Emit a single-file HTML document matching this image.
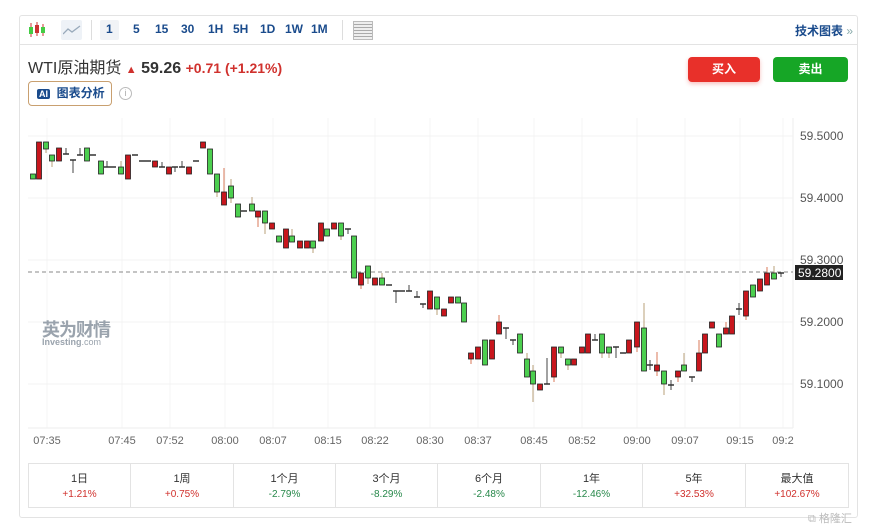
<!DOCTYPE html>
<html><head><meta charset="utf-8"><style>
*{margin:0;padding:0;box-sizing:border-box}
body{width:870px;height:531px;background:#fff;font-family:"Liberation Sans","Noto Sans CJK SC",sans-serif;position:relative;overflow:hidden}
.a{position:absolute}
.card{left:19px;top:15px;width:839px;height:503px;border:1px solid #e3e3e3;border-radius:3px}
.tb{left:19px;top:15px;width:839px;height:30px;border-bottom:1px solid #e3e3e3}
.tf{color:#1a4b8c;font-size:12px;font-weight:bold;top:22px}
.btn{top:57px;height:25px;border-radius:4px;color:#fff;font-size:12px;font-weight:bold;text-align:center;line-height:25px}
.cell{top:463px;height:45px;border:1px solid #e3e3e3;text-align:center;font-size:11px;color:#333;padding-top:7px;line-height:16px}
.cell b{font-weight:normal;display:block;font-size:10px}
.r{color:#d0312d}.g{color:#27884a}
</style></head><body>
<div class="a card"></div>
<div class="a tb"></div>
<svg class="a" style="left:27px;top:20px" width="20" height="20"><line x1="4" y1="3" x2="4" y2="17" stroke="#c33"/><rect x="2" y="7" width="4" height="7" fill="#4c4"/><line x1="10" y1="2" x2="10" y2="16" stroke="#c33"/><rect x="8" y="5" width="4" height="8" fill="#c33"/><line x1="16" y1="4" x2="16" y2="16" stroke="#c33"/><rect x="14" y="7" width="4" height="6" fill="#4c4"/></svg>
<div class="a" style="left:61px;top:20px;width:21px;height:20px;background:#eef2f7;border-radius:2px"></div>
<svg class="a" style="left:63px;top:24px" width="18" height="12"><polyline points="0,10 5,5 9,8 17,2" fill="none" stroke="#9ab" stroke-width="1.3"/></svg>
<div class="a" style="left:91px;top:20px;width:1px;height:20px;background:#ddd"></div>
<div class="a" style="left:100px;top:20px;width:19px;height:20px;background:#f1f3f6;border-radius:2px"></div>
<div class="a tf" style="left:106px">1</div>
<div class="a tf" style="left:133px">5</div>
<div class="a tf" style="left:155px">15</div>
<div class="a tf" style="left:181px">30</div>
<div class="a tf" style="left:208px">1H</div>
<div class="a tf" style="left:233px">5H</div>
<div class="a tf" style="left:260px">1D</div>
<div class="a tf" style="left:285px">1W</div>
<div class="a tf" style="left:311px">1M</div>
<div class="a" style="left:342px;top:20px;width:1px;height:20px;background:#ddd"></div>
<div class="a" style="left:353px;top:21px;width:20px;height:19px;border:1px solid #bbb;background:repeating-linear-gradient(#eee 0 2px,#aaa 2px 3px)"></div>
<div class="a" style="left:795px;top:22px;font-size:12px;font-weight:bold;color:#1a4b8c">技术图表 <span style="color:#8aa;font-weight:normal">»</span></div>
<div class="a" style="left:28px;top:54px;font-size:16px;color:#333">WTI原油期货 <span style="color:#d0312d;font-size:11px">▲</span> <b style="font-size:16px">59.26</b> <b style="color:#d0312d;font-size:14px">+0.71 (+1.21%)</b></div>
<div class="a" style="left:28px;top:81px;width:84px;height:25px;border:1px solid #c9a070;border-radius:4px;font-size:12px;font-weight:bold;color:#1a4b8c;line-height:23px;padding-left:8px"><span style="background:#1a4b8c;color:#fff;font-size:9px;padding:0 2px;border-radius:2px">AI</span>&nbsp; 图表分析</div>
<div class="a" style="left:119px;top:87px;width:13px;height:13px;border:1px solid #bbb;border-radius:50%;font-size:9px;color:#aaa;text-align:center;line-height:11px">i</div>
<div class="a btn" style="left:688px;width:72px;background:#e8302a;box-shadow:0 2px 4px rgba(232,48,42,.3)">买入</div>
<div class="a btn" style="left:773px;width:75px;background:#16a626">卖出</div>
<svg class="a" style="left:0;top:0" width="870" height="531" id="ch"></svg>
<div class="a" style="left:42px;top:316px;font-size:18px;font-weight:bold;color:#9aa3ad;letter-spacing:-1px">英为财情</div>
<div class="a" style="left:42px;top:337px;font-size:9px;font-weight:bold;color:#9aa3ad">Investing<span style="font-weight:normal">.com</span></div>
<div class="a cell" style="left:28px;width:103px">1日<b class="r">+1.21%</b></div>
<div class="a cell" style="left:130px;width:104px">1周<b class="r">+0.75%</b></div>
<div class="a cell" style="left:233px;width:103px">1个月<b class="g">-2.79%</b></div>
<div class="a cell" style="left:335px;width:103px">3个月<b class="g">-8.29%</b></div>
<div class="a cell" style="left:437px;width:104px">6个月<b class="g">-2.48%</b></div>
<div class="a cell" style="left:540px;width:103px">1年<b class="g">-12.46%</b></div>
<div class="a cell" style="left:642px;width:104px">5年<b class="r">+32.53%</b></div>
<div class="a cell" style="left:745px;width:104px">最大值<b class="r">+102.67%</b></div>
<div class="a" style="left:808px;top:510px;font-size:11px;color:#bbb">⧉ 格隆汇</div>
<script>
var s='';
var ts=[[47,'07:35'],[122,'07:45'],[170,'07:52'],[225,'08:00'],[273,'08:07'],[328,'08:15'],[375,'08:22'],[430,'08:30'],[478,'08:37'],[534,'08:45'],[582,'08:52'],[637,'09:00'],[685,'09:07'],[740,'09:15'],[783,'09:2']];
ts.forEach(function(t){s+='<line x1="'+t[0]+'" y1="118" x2="'+t[0]+'" y2="428" stroke="#f4f4f4"/><text x="'+t[0]+'" y="444" font-size="11" fill="#666" text-anchor="middle" font-family="Liberation Sans">'+t[1]+'</text>';});
[[136,'59.5000'],[198,'59.4000'],[260,'59.3000'],[322,'59.2000'],[384,'59.1000']].forEach(function(p){s+='<line x1="28" y1="'+p[0]+'" x2="793" y2="'+p[0]+'" stroke="#f3f3f3"/><text x="800" y="'+(p[0]+4)+'" font-size="12" fill="#555" font-family="Liberation Sans">'+p[1]+'</text>';});
s+='<line x1="793" y1="118" x2="793" y2="428" stroke="#eee"/><line x1="28" y1="428" x2="793" y2="428" stroke="#eee"/>';
s+='<line x1="28" y1="272" x2="793" y2="272" stroke="#888" stroke-dasharray="4,3"/>';
s+='<rect x="795" y="265" width="48" height="15" fill="#222"/><text x="798" y="277" font-size="12" fill="#fff" font-family="Liberation Sans">59.2800</text>';
// x, top, bottom, color(g/r/d), wickTop, wickBottom
var c=[[33,174,179,'g'],[39,142,179,'r'],[46,142,149,'g',142,153],[52,155,161,'g',155,167],[59,148,161,'r'],[66,154,154,'d',148,154],[73,160,160,'d',160,173],[80,155,155,'d',148,155],[87,148,161,'g'],[93,155,155,'d'],[101,161,174,'g'],[107,167,167,'d',161,167],[113,167,167,'d'],[121,167,174,'g',161,174],[128,155,179,'r'],[135,155,155,'d'],[142,161,161,'d'],[148,161,161,'d'],[155,161,167,'r'],[162,167,167,'d',162,167],[169,167,174,'r'],[175,167,167,'d',167,172],[182,167,167,'d',161,167],[189,167,174,'r'],[196,161,161,'d'],[203,142,148,'r'],[210,149,174,'g'],[217,174,192,'g',174,197],[224,192,205,'r',168,205],[231,186,198,'g',179,203],[238,204,217,'g'],[244,211,211,'d'],[252,204,211,'g',197,211],[258,211,217,'r',211,227],[265,211,223,'g',211,234],[272,223,229,'r'],[279,236,242,'g'],[286,229,248,'r'],[292,236,242,'g',229,242],[300,241,248,'r'],[307,241,248,'r'],[313,241,248,'g',241,253],[321,223,241,'r'],[327,229,236,'g'],[334,223,229,'r'],[341,223,236,'g',223,240],[348,229,229,'d',229,234],[354,236,278,'g'],[361,273,285,'r',273,289],[368,266,278,'g',266,284],[375,278,285,'r'],[382,278,285,'g',273,285],[389,285,285,'d'],[396,291,291,'d',291,303],[402,291,291,'d'],[409,291,291,'d',285,291],[417,297,297,'d',291,297],[423,304,304,'d',304,308],[430,291,309,'r'],[437,297,309,'g',297,315],[444,309,316,'r'],[451,297,303,'r'],[458,297,303,'g'],[464,303,322,'g'],[471,353,359,'r',353,364],[478,347,359,'r'],[485,340,365,'g'],[492,340,359,'r'],[499,322,334,'r',315,334],[506,328,328,'d',328,339],[513,340,340,'d',340,345],[520,334,353,'g'],[527,359,377,'g',353,377],[533,371,384,'g',365,402],[540,384,390,'r'],[547,384,384,'d',358,384],[554,347,377,'r',347,382],[561,347,353,'g',347,358],[568,359,365,'g',359,370],[574,359,365,'r'],[582,347,353,'r'],[588,334,353,'r'],[595,340,340,'d',334,340],[602,334,353,'g',334,358],[609,347,353,'g',347,358],[616,347,347,'d',347,358],[623,353,353,'d'],[629,340,353,'r'],[637,322,347,'r',322,352],[644,328,371,'g',303,371],[650,365,365,'d',360,370],[657,365,371,'r',352,376],[664,371,384,'g',371,395],[671,385,385,'d',380,390],[678,371,377,'r',371,382],[684,365,371,'g',353,371],[692,377,377,'d',377,382],[699,353,371,'r',340,371],[705,334,353,'r'],[712,322,328,'r'],[719,334,347,'g'],[726,328,334,'r',322,334],[732,316,334,'r'],[739,309,309,'d',303,315],[746,291,316,'r',291,320],[753,285,297,'g'],[760,279,291,'r'],[767,273,285,'r',267,285],[774,273,279,'g',266,279],[781,273,273,'d',273,277]];
c.forEach(function(k){var x=k[0],t=k[1],b=k[2],col=k[3];
 if(k[4]!==undefined){s+='<line x1="'+x+'" y1="'+k[4]+'" x2="'+x+'" y2="'+k[5]+'" stroke="'+(col=='d'?'#444':(col=='r'?'#d97a5a':'#b9a07a'))+'" stroke-width="1"/>';}
 if(col=='d'){s+='<line x1="'+(x-3)+'" y1="'+t+'" x2="'+(x+3)+'" y2="'+t+'" stroke="#333" stroke-width="1.5"/>';}
 else{var h=Math.max(b-t,3);s+='<rect x="'+(x-2.5)+'" y="'+t+'" width="5" height="'+h+'" fill="'+(col=='g'?'#4ccf4f':'#c8161d')+'" stroke="#222" stroke-width="0.8"/>';}
});
document.getElementById('ch').innerHTML=s;
</script>
</body></html>
